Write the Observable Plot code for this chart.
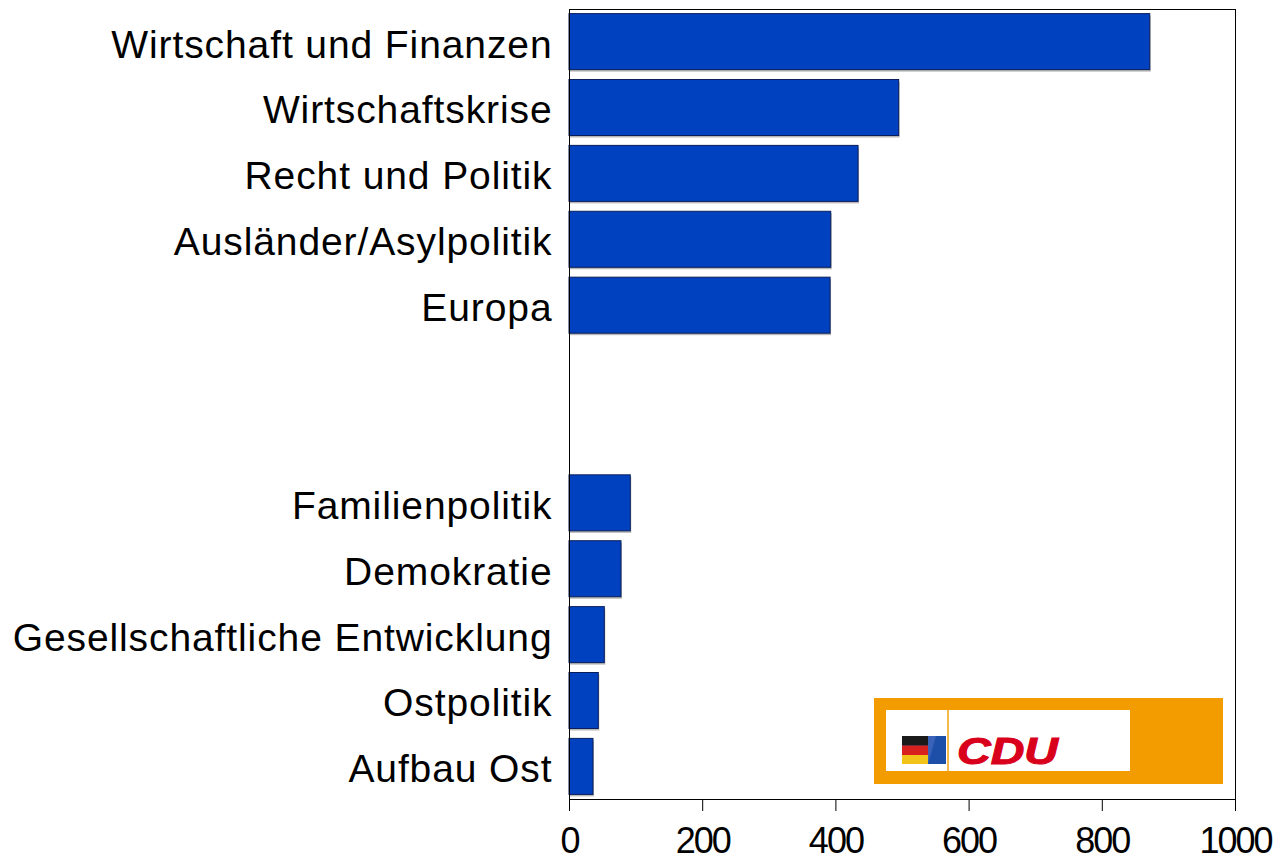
<!DOCTYPE html>
<html>
<head>
<meta charset="utf-8">
<script src="https://cdn.jsdelivr.net/npm/d3@7"></script>
<script src="https://cdn.jsdelivr.net/npm/@observablehq/plot@0.6"></script>
<style>
  html, body { margin: 0; padding: 0; background: #fff; }
  #chart { position: relative; width: 1287px; height: 862px; }
  svg { font-family: "Liberation Sans", Arial, sans-serif; }
  g[aria-label="y-axis tick label"] text { letter-spacing: 0.9px; }
  g[aria-label="x-axis tick label"] text { letter-spacing: -2px; }
</style>
</head>
<body>
<div id="chart"></div>
<script>
// Data
const topCategories = ["Wirtschaft und Finanzen", "Wirtschaftskrise", "Recht und Politik", "Ausländer/Asylpolitik", "Europa"];
const topValues = [872, 495, 434, 393, 392];
const bottomCategories = ["Familienpolitik", "Demokratie", "Gesellschaftliche Entwicklung", "Ostpolitik", "Aufbau Ost"];
const bottomValues = [92, 78, 53, 44, 36];
const xTicks = [0, 200, 400, 600, 800, 1000];

const spacers = ["\u2009", "\u2009\u2009"];
const domain = [...topCategories, ...spacers, ...bottomCategories];
const data = [
  ...topCategories.map((c, i) => ({category: c, value: topValues[i]})),
  ...bottomCategories.map((c, i) => ({category: c, value: bottomValues[i]}))
];

const chart = Plot.plot({
  width: 1287,
  height: 862,
  marginLeft: 569,
  marginRight: 52,
  marginTop: 9,
  marginBottom: 63,
  x: {domain: [0, 1000], label: null},
  y: {domain, paddingInner: 0.15, paddingOuter: 0.07, round: false, label: null},
  marks: [
    Plot.barX(data, {y: "category", x: "value", fill: "#b8b8b8", dx: 1, dy: 2}),
    Plot.barX(data, {y: "category", x: "value", fill: "#0041c0", stroke: "#0a1f5c", strokeWidth: 1}),
    Plot.frame({stroke: "#000", strokeWidth: 1}),
    Plot.axisX({ticks: xTicks, tickSize: 12, tickPadding: 16, fontSize: 36, tickFormat: d => String(d), label: null, color: "#000"}),
    Plot.axisY({tickSize: 0, tickPadding: 17, fontSize: 39, dy: 3, tickFormat: d => spacers.includes(d) ? "" : d, label: null, color: "#000"})
  ]
});
document.getElementById("chart").appendChild(chart);

// CDU logo decoration in the lower right
const svg = d3.select(chart);
const logo = svg.append("g").attr("aria-label", "logo").attr("text-anchor", "start");
logo.append("rect").attr("x", 874).attr("y", 698).attr("width", 349).attr("height", 86).attr("fill", "#f39c00");
logo.append("rect").attr("x", 886).attr("y", 710).attr("width", 244).attr("height", 61).attr("fill", "#ffffff");
logo.append("rect").attr("x", 947).attr("y", 710).attr("width", 2).attr("height", 61).attr("fill", "#f5b84a");
// flag
logo.append("rect").attr("x", 902).attr("y", 736).attr("width", 44).attr("height", 28).attr("fill", "#1d4fa8");
logo.append("rect").attr("x", 902).attr("y", 736).attr("width", 26).attr("height", 9.5).attr("fill", "#1a1a1a");
logo.append("rect").attr("x", 902).attr("y", 745.5).attr("width", 26).attr("height", 9.5).attr("fill", "#d8201f");
logo.append("rect").attr("x", 902).attr("y", 755).attr("width", 26).attr("height", 9).attr("fill", "#f2c318");
logo.append("path").attr("d", "M928,736 L936,736 L928,764 Z").attr("fill", "#3a62b8");
logo.append("text").attr("x", 957).attr("y", 764)
  .attr("text-anchor", "start")
  .attr("font-family", "Liberation Sans, Arial, sans-serif")
  .attr("font-weight", "bold").attr("font-style", "italic")
  .attr("font-size", 36).attr("fill", "#d9001b")
  .attr("stroke", "#d9001b").attr("stroke-width", 1)
  .attr("textLength", 101).attr("lengthAdjust", "spacingAndGlyphs")
  .text("CDU");
</script>
</body>
</html>
